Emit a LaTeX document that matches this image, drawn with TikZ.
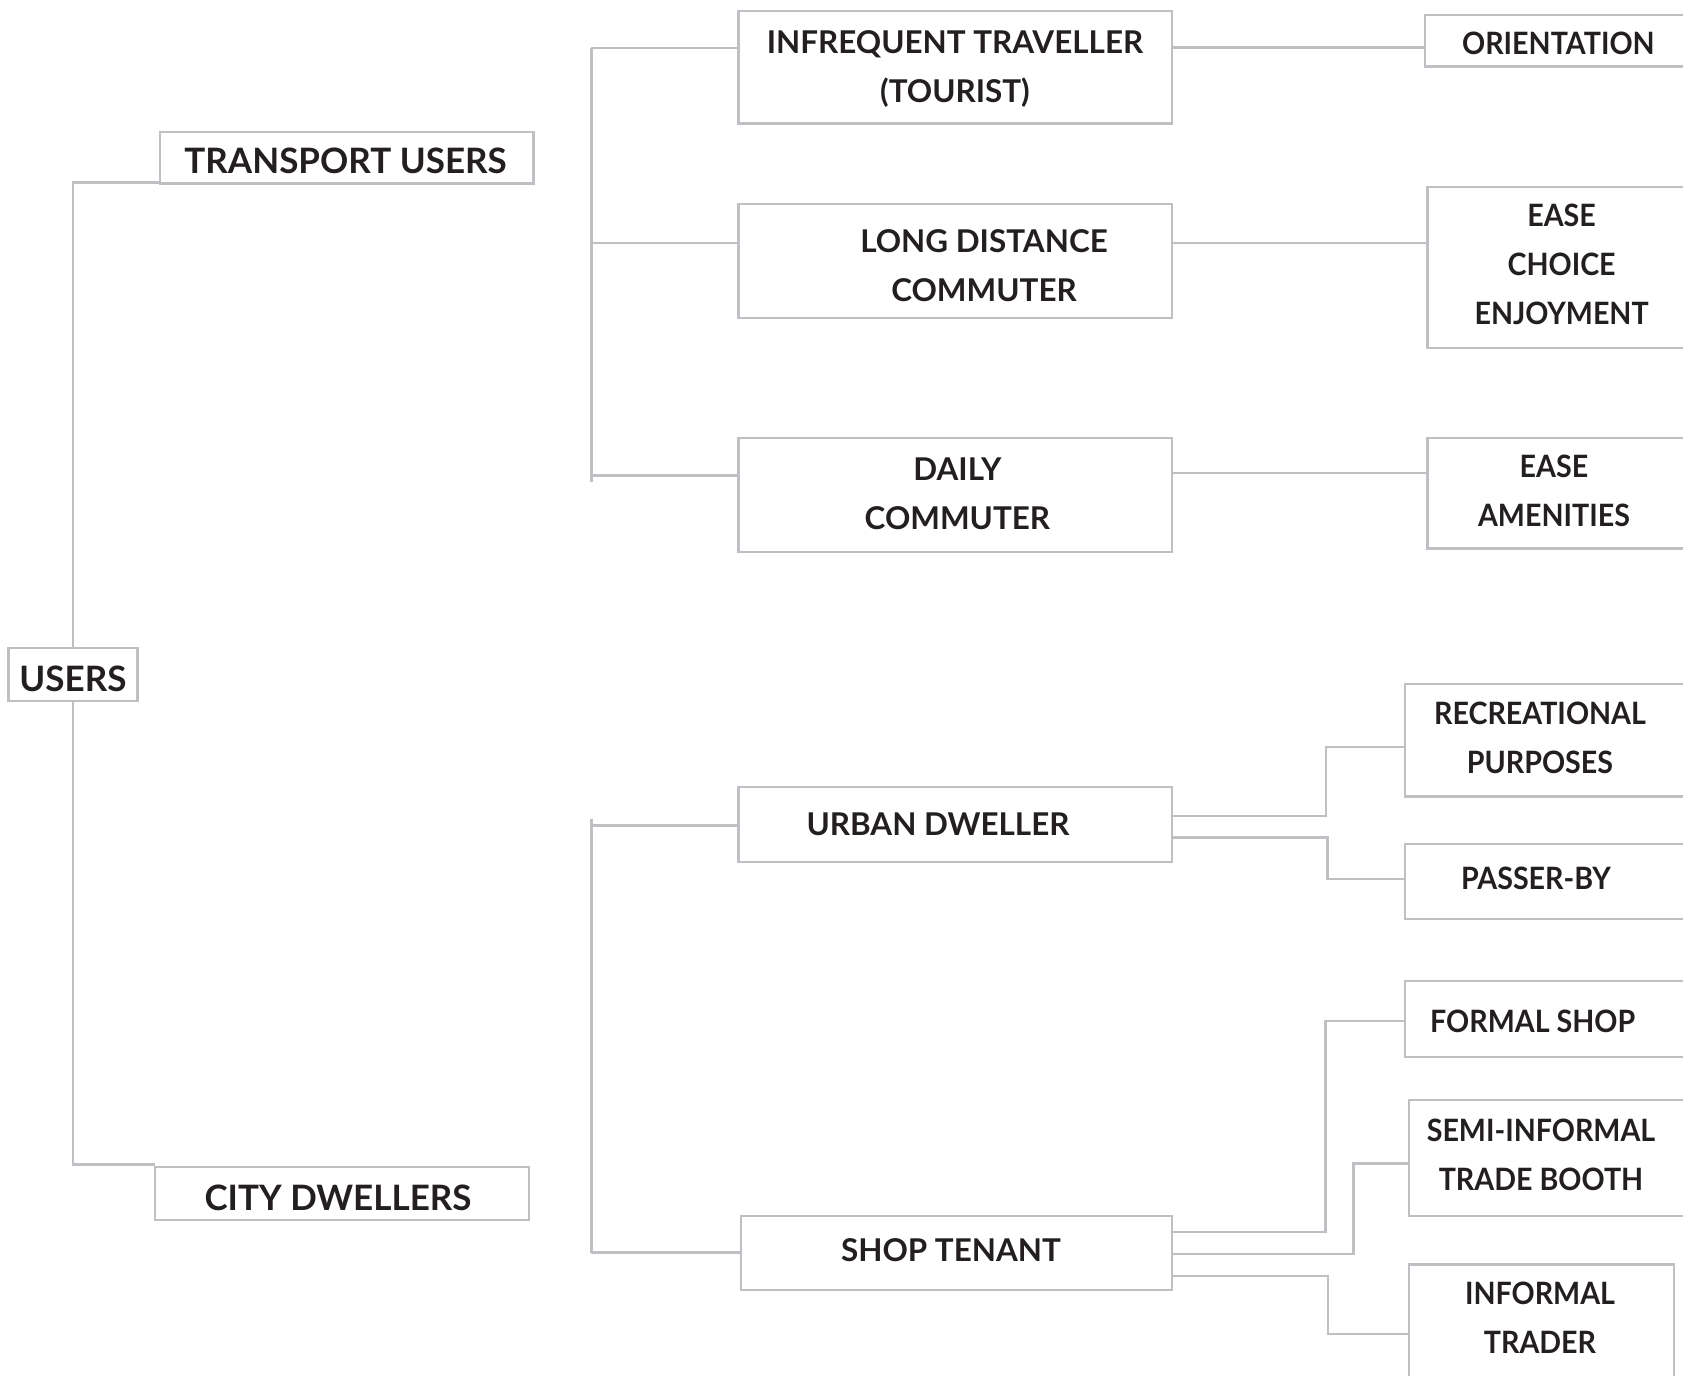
\documentclass[tikz,border=0pt]{standalone}
\usepackage{fontspec}
\setmainfont{Lato}
\newfontfamily\rfont{Lato}[FakeStretch=0.93]
\usetikzlibrary{fit}
\definecolor{linegrey}{RGB}{192,192,196}
\definecolor{ink}{RGB}{35,31,32}
\tikzset{
  box/.style={draw=linegrey, line width=1.1pt, inner sep=0pt, outer sep=0pt},
  conn/.style={draw=linegrey, line width=1.1pt},
  lbl/.style={text=ink, align=center, inner sep=0pt, font=\fontsize{17.5}{24.5}\selectfont\bfseries},
  lblm/.style={lbl, font=\fontsize{15.7}{24.5}\selectfont\bfseries},
  lblr/.style={lbl, font=\rfont\fontsize{15.4}{24.5}\selectfont\bfseries}
}
\begin{document}
\begin{tikzpicture}[x=0.5pt,y=-0.5pt]
\path[use as bounding box] (0,0) rectangle (1683,1376);
\fill[white] (0,0) rectangle (1683,1376);
\clip (0,0) rectangle (1683,1376);

% boxes
\node[box, fit={(8.5,648) (137.5,701)}] (users) {};
\node[box, fit={(160,132) (533.4,183.5)}] (trans) {};
\node[box, fit={(154.6,1166.7) (529.1,1220.3)}] (city) {};
\node[box, fit={(738.4,10.7) (1172,123.4)}] (inf) {};
\node[box, fit={(738.4,203.9) (1172,317.7)}] (ld) {};
\node[box, fit={(738.4,437.9) (1172,551.7)}] (dc) {};
\node[box, fit={(1425.3,15) (1700,66.5)}] (ori) {};
\node[box, fit={(1427.5,186.8) (1700,347.7)}] (ece) {};
\node[box, fit={(1427.5,437.9) (1700,548.5)}] (ea) {};
\node[box, fit={(738.4,786.7) (1172,861.9)}] (ud) {};
\node[box, fit={(740.6,1216) (1172,1290)}] (st) {};
\node[box, fit={(1405,683.7) (1700,796.4)}] (rec) {};
\node[box, fit={(1405,843.6) (1700,918.8)}] (pb) {};
\node[box, fit={(1405,981) (1700,1057.2)}] (fs) {};
\node[box, fit={(1409.2,1100.1) (1700,1216)}] (semi) {};
\node[box, fit={(1409.2,1264.4) (1674.3,1400)}] (inft) {};

% labels
\node[lbl] (tusers) at (73,679) {USERS};
\node[lbl] (ttrans) at (345.6,161) {TRANSPORT USERS};
\node[lbl] (tcity) at (338,1198) {CITY DWELLERS};
\node[lblm] (tinf) at (955,68.7) {INFREQUENT TRAVELLER\\(TOURIST)};
\node[lblm] (tld) at (984,265.6) {LONG DISTANCE\\COMMUTER};
\node[lblm] (tdc) at (957.4,493.7) {DAILY\\COMMUTER};
\node[lblr] (tori) at (1558.4,43.5) {ORIENTATION};
\node[lblr] (tece) at (1561.6,264) {EASE\\CHOICE\\ENJOYMENT};
\node[lblr] (tea) at (1554,491) {EASE\\AMENITIES};
\node[lblm] (tud) at (938,824.3) {URBAN DWELLER};
\node[lblm] (tst) at (951,1250.4) {SHOP TENANT};
\node[lblr] (trec) at (1540,737.5) {RECREATIONAL\\PURPOSES};
\node[lblr] (tpb) at (1536,878.5) {PASSER-BY};
\node[lblr] (tfs) at (1532.7,1021.2) {FORMAL SHOP};
\node[lblr] (tsemi) at (1541,1154.8) {SEMI-INFORMAL\\TRADE BOOTH};
\node[lblr] (tinft) at (1540,1318) {INFORMAL\\TRADER};

% trunk
\coordinate (ut) at (73,182.5);
\coordinate (ub) at (73,1164.5);
\draw[conn] (ut -| trans.west) -- (ut) -- (users.north);
\draw[conn] (users.south) -- (ub) -- (ub -| city.west);

% top group
\coordinate (ta) at (591.4,48.3);
\coordinate (tb) at (591.4,481.9);
\coordinate (tl) at (591.4,242.6);
\coordinate (td) at (591.4,475.5);
\draw[conn] (ta) -- (tb);
\draw[conn] (ta) -- (ta -| inf.west);
\draw[conn] (tl) -- (tl -| ld.west);
\draw[conn] (td) -- (td -| dc.west);

% bottom group
\coordinate (ba) at (591.4,819);
\coordinate (bu) at (591.4,825.4);
\coordinate (bb) at (591.4,1252.5);
\draw[conn] (ba) -- (bb);
\draw[conn] (bu) -- (bu -| ud.west);
\draw[conn] (bb) -- (bb -| st.west);

% right connectors
\coordinate (r1) at (1300,47.5);
\coordinate (r2) at (1300,242.6);
\coordinate (r3) at (1300,473.3);
\draw[conn] (inf.east |- r1) -- (ori.west |- r1);
\draw[conn] (ld.east |- r2) -- (ece.west |- r2);
\draw[conn] (dc.east |- r3) -- (ea.west |- r3);

\coordinate (u1) at (1325.6,816);
\coordinate (u1t) at (1325.6,747);
\draw[conn] (ud.east |- u1) -- (u1) -- (u1t) -- (u1t -| rec.west);
\coordinate (u2) at (1327.5,837.5);
\coordinate (u2b) at (1327.5,879);
\draw[conn] (ud.east |- u2) -- (u2) -- (u2b) -- (u2b -| pb.west);

\coordinate (s1) at (1325.5,1232);
\coordinate (s1t) at (1325.5,1021);
\draw[conn] (st.east |- s1) -- (s1) -- (s1t) -- (s1t -| fs.west);
\coordinate (s2) at (1353.4,1254);
\coordinate (s2t) at (1353.4,1163.5);
\draw[conn] (st.east |- s2) -- (s2) -- (s2t) -- (s2t -| semi.west);
\coordinate (s3) at (1328,1276);
\coordinate (s3b) at (1328,1334);
\draw[conn] (st.east |- s3) -- (s3) -- (s3b) -- (s3b -| inft.west);
\end{tikzpicture}
\end{document}
